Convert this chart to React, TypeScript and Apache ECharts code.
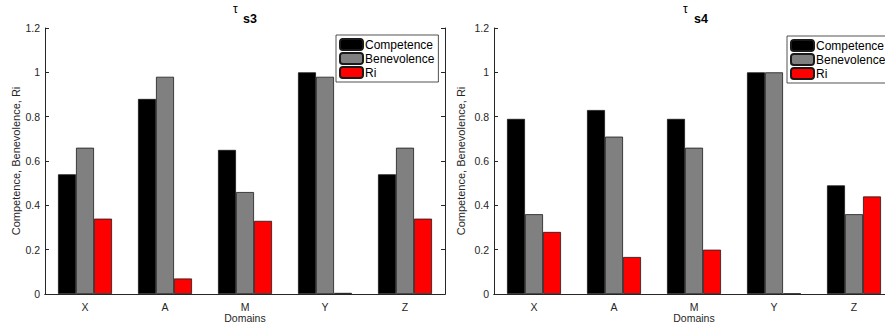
import React, { useEffect, useRef } from "react";
import * as echarts from "echarts";

const categories = ["X", "A", "M", "Y", "Z"];
const seriesNames = ["Competence", "Benevolence", "Ri"];
const yTicks = [0, 0.2, 0.4, 0.6, 0.8, 1, 1.2];

// τ s3 panel
const s3Competence = [0.54, 0.88, 0.65, 1.0, 0.54];
const s3Benevolence = [0.66, 0.98, 0.46, 0.98, 0.66];
const s3Ri = [0.34, 0.07, 0.33, 0.005, 0.34];

// τ s4 panel
const s4Competence = [0.79, 0.83, 0.79, 1.0, 0.49];
const s4Benevolence = [0.36, 0.71, 0.66, 1.0, 0.36];
const s4Ri = [0.28, 0.167, 0.2, 0.002, 0.44];

const colors = ["#000000", "#808080", "#ff0000"];
const FONT = "'Liberation Sans', Arial, Helvetica, sans-serif";
const AX = "#262626";

export default function App() {
  const ref = useRef<HTMLDivElement>(null);

  useEffect(() => {
    if (!ref.current) return;
    const chart = echarts.init(ref.current, undefined, { renderer: "svg" });

    const grids = [
      { left: 45, top: 28, width: 400, height: 266, outerBoundsMode: "none", containLabel: false },
      { left: 494, top: 28, width: 400, height: 266, outerBoundsMode: "none", containLabel: false },
    ];

    const xAxes: any[] = [];
    const yAxes: any[] = [];
    grids.forEach((_, gi) => {
      xAxes.push({
        type: "category",
        gridIndex: gi,
        position: "bottom",
        data: categories,
        axisLine: { lineStyle: { color: AX, width: 1 } },
        axisTick: { inside: true, alignWithLabel: true, length: 4, lineStyle: { color: AX } },
        axisLabel: { color: AX, fontSize: 10.5, fontFamily: FONT, margin: 7 },
        name: "Domains",
        nameLocation: "middle",
        nameGap: 18,
        nameMoveOverlap: false,
        nameTextStyle: { color: AX, fontSize: 10.5, fontFamily: FONT, verticalAlign: "top", lineHeight: 11 },
        z: 10,
      });
      xAxes.push({
        type: "category",
        gridIndex: gi,
        position: "top",
        data: categories,
        axisLine: { lineStyle: { color: AX, width: 1 } },
        axisTick: { inside: true, alignWithLabel: true, length: 4, lineStyle: { color: AX } },
        axisLabel: { show: false },
        z: 10,
      });
      yAxes.push({
        type: "value",
        gridIndex: gi,
        position: "left",
        min: 0,
        max: 1.2,
        interval: 0.2,
        splitLine: { show: false },
        axisLine: { show: true, lineStyle: { color: AX, width: 1 } },
        axisTick: { show: true, inside: true, length: 4, lineStyle: { color: AX } },
        axisLabel: {
          color: AX,
          fontSize: 10.5,
          fontFamily: FONT,
          margin: 5,
          formatter: (v: number) => {
            const t = yTicks.find((k) => Math.abs(k - v) < 1e-9);
            return t === undefined ? "" : String(t);
          },
        },
        name: "Competence, Benevolence, Ri",
        nameLocation: "middle",
        nameGap: gi === 0 ? 22 : 28,
        nameTextStyle: { color: AX, fontSize: 11, fontFamily: FONT },
        z: 10,
      });
      yAxes.push({
        type: "value",
        gridIndex: gi,
        position: "right",
        min: 0,
        max: 1.2,
        interval: 0.2,
        splitLine: { show: false },
        axisLine: { show: true, lineStyle: { color: AX, width: 1 } },
        axisTick: { show: true, inside: true, length: 4, lineStyle: { color: AX } },
        axisLabel: { show: false },
        z: 10,
      });
    });

    const panelData = [
      [s3Competence, s3Benevolence, s3Ri],
      [s4Competence, s4Benevolence, s4Ri],
    ];

    const series: any[] = [];
    panelData.forEach((arrs, gi) => {
      arrs.forEach((vals, si) => {
        series.push({
          type: "bar",
          name: seriesNames[si],
          xAxisIndex: gi * 2,
          yAxisIndex: gi * 2,
          data: vals,
          barWidth: 18,
          barGap: "0%",
          itemStyle: {
            color: colors[si],
            borderColor: "#1a1a1a",
            borderWidth: 0.8,
          },
        });
      });
    });

    const legendCommon = {
      orient: "vertical",
      data: seriesNames,
      itemWidth: 23,
      itemHeight: 11,
      itemGap: 1,
      padding: [3, 4, 3, 3],
      borderColor: AX,
      borderWidth: 0.8,
      backgroundColor: "#ffffff",
      textStyle: { color: "#000", fontSize: 12, lineHeight: 12, fontFamily: FONT, padding: [0, 0, 0, -3] },
      selectedMode: false,
    };

    chart.setOption({
      animation: false,
      backgroundColor: "#ffffff",
      grid: grids,
      xAxis: xAxes,
      yAxis: yAxes,
      series,
      legend: [
        { ...legendCommon, left: 336, top: 35 },
        { ...legendCommon, left: 787, top: 36 },
      ],
      graphic: [
        { type: "text", left: 233, top: 3, style: { text: "τ", fontSize: 12, fontFamily: FONT, fill: "#000" } },
        { type: "text", left: 243, top: 12, style: { text: "s3", fontSize: 12.5, fontWeight: "bold", fontFamily: FONT, fill: "#000" } },
        { type: "text", left: 683, top: 3, style: { text: "τ", fontSize: 12, fontFamily: FONT, fill: "#000" } },
        { type: "text", left: 694, top: 12, style: { text: "s4", fontSize: 12.5, fontWeight: "bold", fontFamily: FONT, fill: "#000" } },
      ],
    });

    return () => chart.dispose();
  }, []);

  return (
    <div style={{ position: "absolute", left: 0, top: 0, width: 885, height: 323, overflow: "hidden" }}>
      <div ref={ref} style={{ width: 905, height: 323 }} />
    </div>
  );
}
